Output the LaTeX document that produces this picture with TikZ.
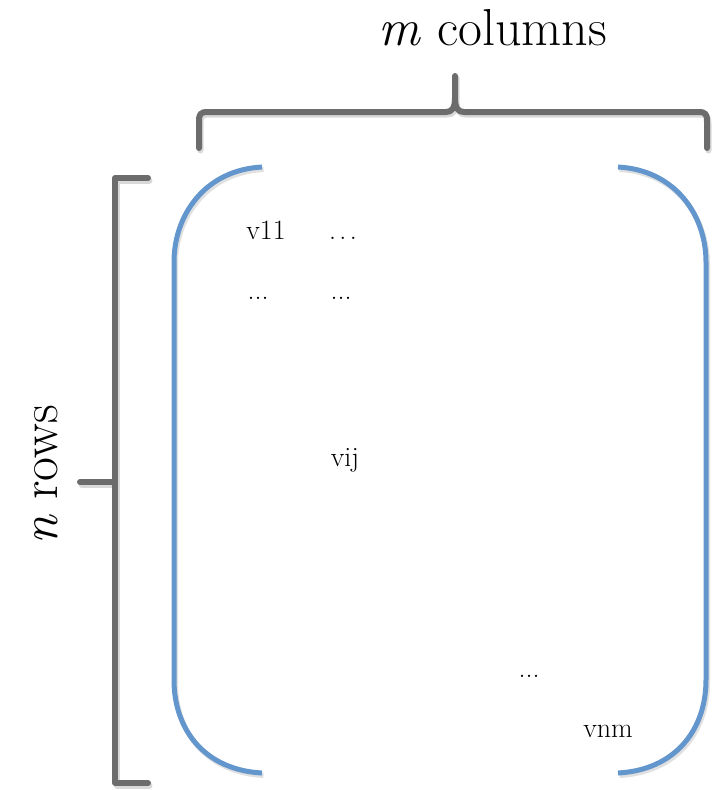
\documentclass[tikz,border=0pt]{standalone}
\usepackage{fontspec}
\setmainfont{Latin Modern Roman}
\begin{document}
\begin{tikzpicture}[x=1pt,y=-1pt,
  bracket/.style={draw=gray!85!black, line width=6pt, line cap=round, line join=round},
  shade/.style={draw=black!15, line width=6pt, line cap=round, line join=round},
  paren/.style={draw=parblue, line width=5pt},
  parshade/.style={draw=black!12, line width=5pt},
  entry/.style={inner sep=0pt, anchor=base, font=\fontsize{28}{30}\selectfont},
  caption/.style={inner sep=0pt, anchor=base, font=\fontsize{52}{56}\selectfont}]
\definecolor{parblue}{RGB}{98,150,204}
\useasboundingbox (0,0) rectangle (715,790);

% brace over the columns (soft shadow first)
\path[shade, shift={(1.5,2.5)}] (199,148) -- (199,122) .. controls (199,114) and (200,112) .. (208,112) -- (446,112)
  .. controls (452,112) and (455,108) .. (455,98) -- (455,76)
  (455,98) .. controls (455,108) and (458,112) .. (464,112) -- (698,112)
  .. controls (706,112) and (707,114) .. (707,122) -- (707,148);
\path[bracket] (199,148) -- (199,122) .. controls (199,114) and (200,112) .. (208,112) -- (446,112)
  .. controls (452,112) and (455,108) .. (455,98) -- (455,76)
  (455,98) .. controls (455,108) and (458,112) .. (464,112) -- (698,112)
  .. controls (706,112) and (707,114) .. (707,122) -- (707,148);

% bracket beside the rows
\path[shade, shift={(1.5,2.5)}] (148,178) -- (115,178) -- (115,783) -- (148,783) (80,482) -- (115,482);
\path[bracket] (148,178) -- (115,178) -- (115,783) -- (148,783);
\path[bracket] (80,482) -- (115,482);

% matrix parentheses
\path[parshade, shift={(1.5,2.5)}] (262,167) .. controls (205,170) and (174,215) .. (174,262) -- (174,680)
  .. controls (174,730) and (205,770) .. (262,773);
\path[parshade, shift={(1.5,2.5)}] (618,167) .. controls (675,170) and (706,215) .. (706,262) -- (706,680)
  .. controls (706,730) and (675,770) .. (618,773);
\path[paren] (262,167) .. controls (205,170) and (174,215) .. (174,262) -- (174,680)
  .. controls (174,730) and (205,770) .. (262,773);
\path[paren] (618,167) .. controls (675,170) and (706,215) .. (706,262) -- (706,680)
  .. controls (706,730) and (675,770) .. (618,773);

% captions
\node[caption] (cols) at (493,45) {\textit{m} columns};
\node[caption, rotate=90] (rows) at (57,475) {\textit{n} rows};

% matrix entries
\node[entry] (v11) at (266,239) {v11};
\node[entry] (d12) at (343,239) {.\hspace{0.12em}.\hspace{0.12em}.};
\node[entry] (d21) at (258,299) {...};
\node[entry] (d22) at (341,299) {...};
\node[entry] (vij) at (345,466) {vij};
\node[entry] (dnn) at (529,677) {...};
\node[entry] (vnm) at (608,737) {vnm};
\end{tikzpicture}
\end{document}
